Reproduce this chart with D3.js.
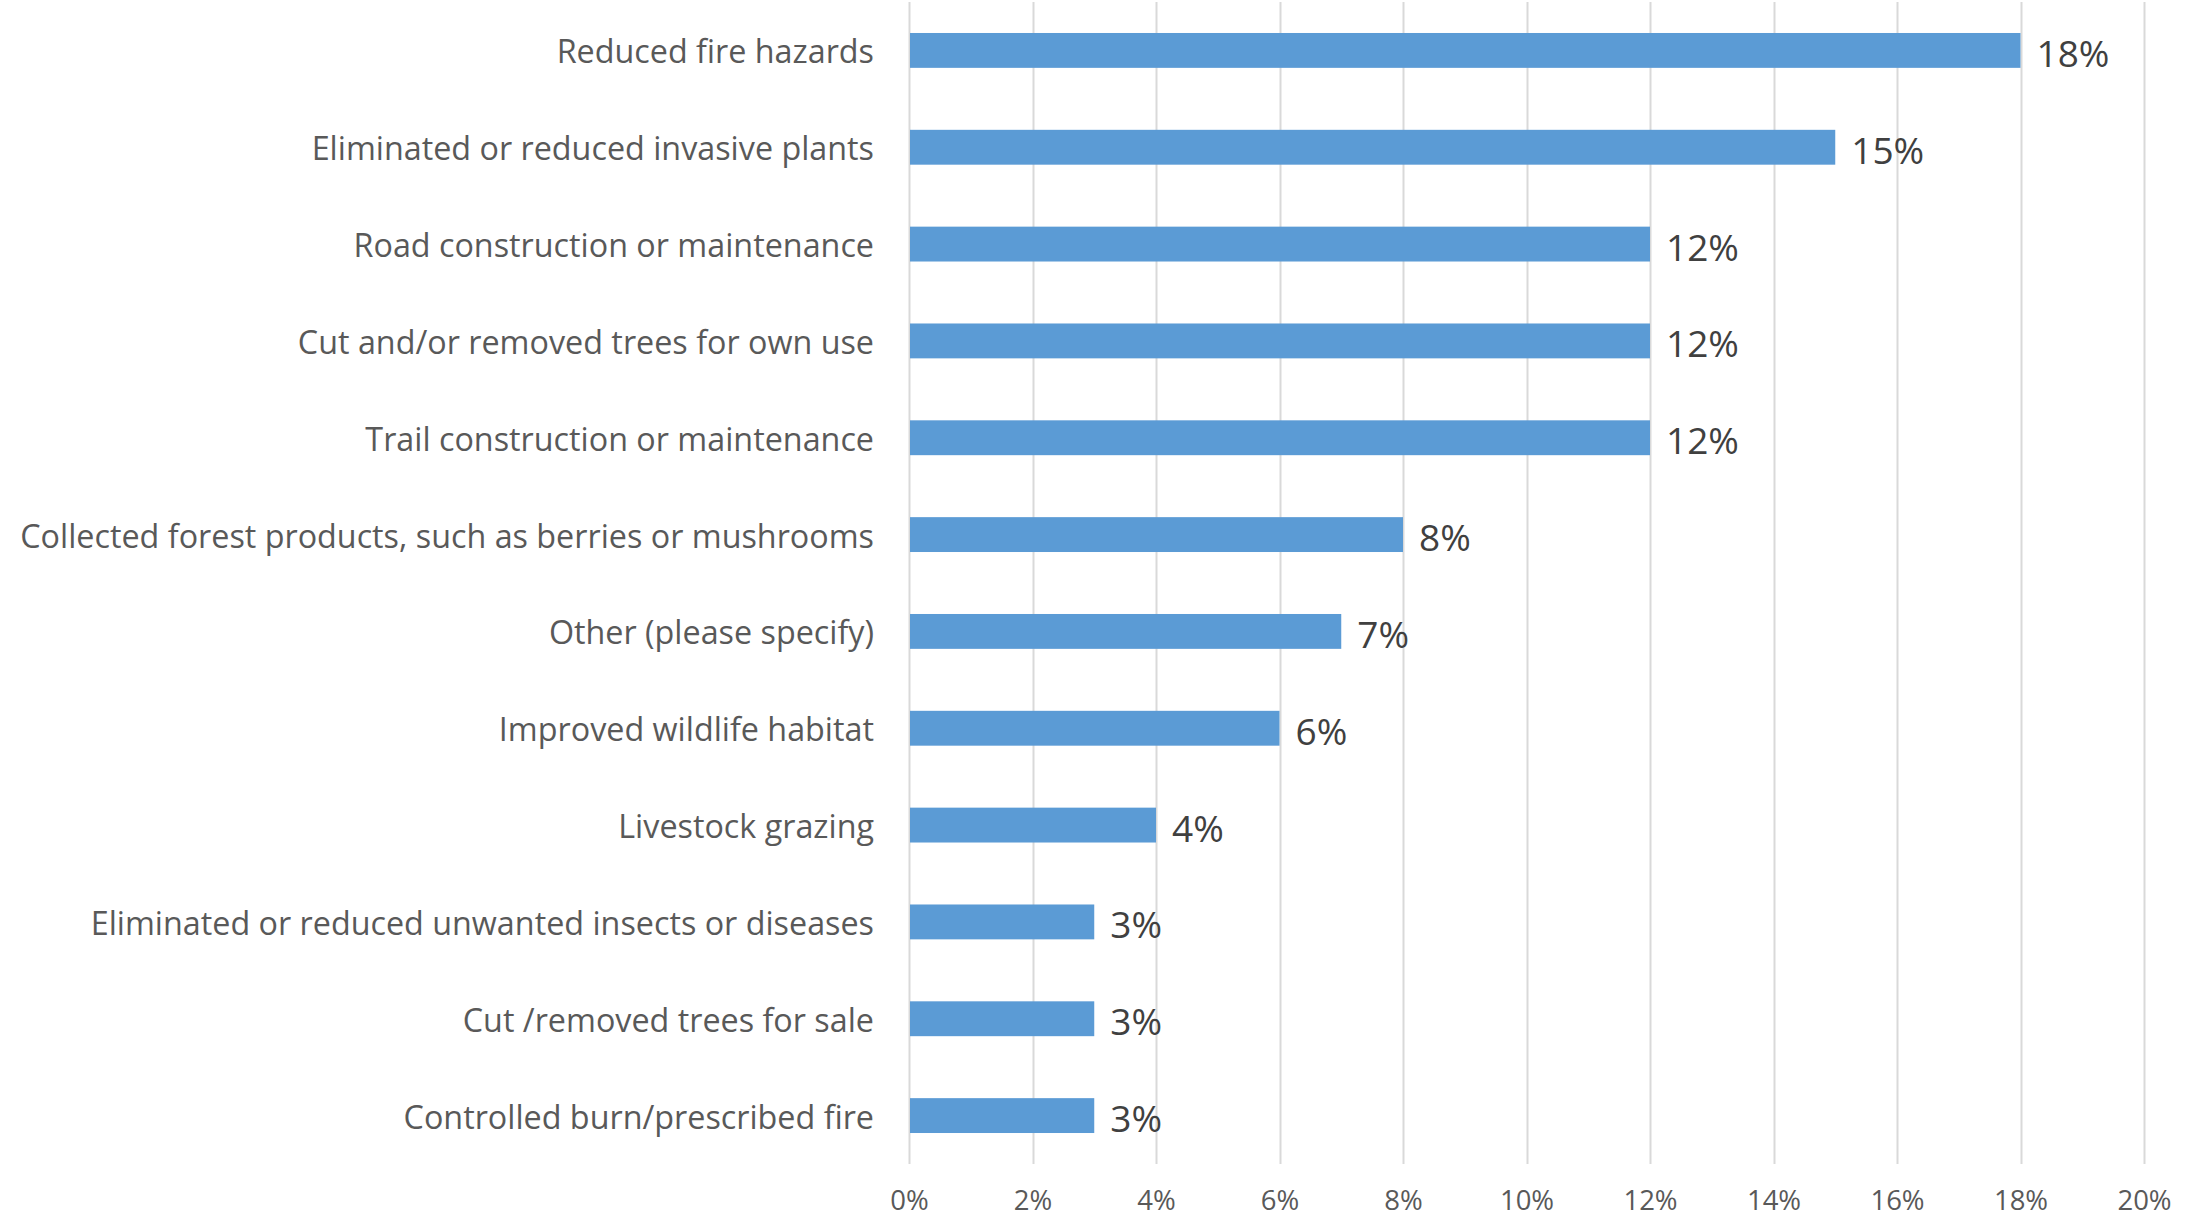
<!DOCTYPE html>
<html>
<head>
<meta charset="utf-8">
<script src="https://cdn.jsdelivr.net/npm/d3@7"></script>
<style>
  html, body { margin: 0; padding: 0; background: #ffffff; }
  svg { display: block; }
</style>
</head>
<body>
<svg id="chart" width="2203" height="1219"></svg>
<script>
const categories = [
  "Reduced fire hazards",
  "Eliminated or reduced invasive plants",
  "Road construction or maintenance",
  "Cut and/or removed trees for own use",
  "Trail construction or maintenance",
  "Collected forest products, such as berries or mushrooms",
  "Other (please specify)",
  "Improved wildlife habitat",
  "Livestock grazing",
  "Eliminated or reduced unwanted insects or diseases",
  "Cut /removed trees for sale",
  "Controlled burn/prescribed fire"
];
const values = [18, 15, 12, 12, 12, 8, 7, 6, 4, 3, 3, 3];
const tickValues = [0, 2, 4, 6, 8, 10, 12, 14, 16, 18, 20];

const svg = d3.select("#chart");
const plotLeft = 909, plotRight = 2144, plotTop = 2, plotBottom = 1164;

const x = d3.scaleLinear().domain([0, 20]).range([plotLeft, plotRight]);
const y = d3.scaleBand().domain(categories).range([plotTop, plotBottom]).paddingInner(0.64).paddingOuter(0.32);

// gridlines
svg.append("g")
  .selectAll("line")
  .data(tickValues)
  .join("line")
  .attr("x1", d => Math.round(x(d)) + 0.5)
  .attr("x2", d => Math.round(x(d)) + 0.5)
  .attr("y1", plotTop)
  .attr("y2", plotBottom)
  .attr("stroke", "#d9d9d9")
  .attr("stroke-width", 2);

// bars
svg.append("g")
  .selectAll("rect")
  .data(values)
  .join("rect")
  .attr("x", x(0) + 1)
  .attr("y", (d, i) => y(categories[i]))
  .attr("width", d => x(d) - x(0) - 1)
  .attr("height", y.bandwidth())
  .attr("fill", "#5b9bd5");

// data labels
svg.append("g")
  .selectAll("text")
  .data(values)
  .join("text")
  .attr("x", d => x(d) + 16)
  .attr("y", (d, i) => y(categories[i]) + y.bandwidth() / 2 + 2)
  .attr("dominant-baseline", "central")
  .attr("font-family", "'Open Sans', sans-serif")
  .attr("font-size", 37)
  .attr("fill", "#404040")
  .text(d => d + "%");

// category axis labels
svg.append("g")
  .selectAll("text")
  .data(categories)
  .join("text")
  .attr("x", 874)
  .attr("y", d => y(d) + y.bandwidth() / 2)
  .attr("text-anchor", "end")
  .attr("dominant-baseline", "central")
  .attr("font-family", "'Open Sans', sans-serif")
  .attr("font-size", 32.3)
  .attr("fill", "#595959")
  .text(d => d);

// x axis tick labels
const xAxis = d3.axisBottom(x).tickValues(tickValues).tickSize(0).tickFormat(d => d + "%");
const gx = svg.append("g").attr("transform", `translate(0, ${plotBottom + 23})`).call(xAxis);
gx.select(".domain").remove();
gx.selectAll("text")
  .attr("font-family", "'Open Sans', sans-serif")
  .attr("font-size", 27.5)
  .attr("fill", "#595959");
</script>
</body>
</html>
